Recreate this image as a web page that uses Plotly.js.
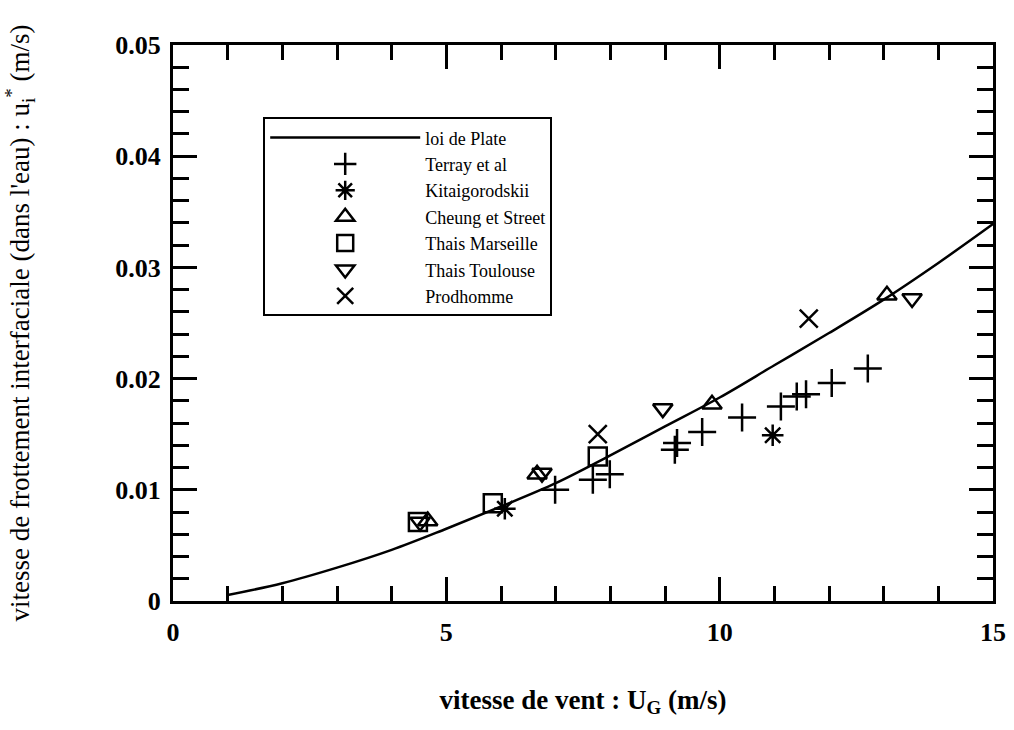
<!DOCTYPE html>
<html>
<head>
<meta charset="utf-8">
<script src="https://cdn.plot.ly/plotly-3.0.1.min.js"></script>
<style>body{margin:0;background:#fff}#c{width:1014px;height:730px}</style>
</head>
<body>
<div id="c"></div>
<script>
// loi de Plate (curve)
const plateX = [1,2,3,4,5,6,7,8,9,10,11,12,13,14,15];
const plateY = [0.00054,0.0016,0.0030,0.0046,0.0065,0.0085,0.0106,0.0131,0.0157,0.0183,0.0212,0.0241,0.0271,0.0304,0.0339];

const terrayX = [6.99,7.68,7.99,9.18,9.22,9.68,10.41,11.12,11.41,11.58,12.05,12.71];
const terrayY = [0.0100,0.0109,0.0114,0.0136,0.0142,0.0152,0.0165,0.0175,0.0184,0.0186,0.0196,0.0209];

const kitaiX = [6.07,10.97];
const kitaiY = [0.0083,0.0149];

const cheungX = [4.66,6.66,9.86,13.06];
const cheungY = [0.0072,0.0114,0.0177,0.0275];

const marseilleX = [4.48,5.85,7.77];
const marseilleY = [0.0071,0.0088,0.0130];

const toulouseX = [4.52,6.75,8.96,13.52];
const toulouseY = [0.0071,0.0115,0.0173,0.0272];

const prodX = [7.77,11.63];
const prodY = [0.0150,0.0254];

const names = ['loi de Plate','Terray et al','Kitaigorodskii','Cheung et Street','Thais Marseille','Thais Toulouse','Prodhomme'];

const xTickVals = [0,5,10,15];
const xTickText = ['0','5','10','15'];
const yTickVals = [0,0.01,0.02,0.03,0.04,0.05];
const yTickText = ['0','0.01','0.02','0.03','0.04','0.05'];

function pts(x,y,name,symbol,size){
  return {x:x,y:y,name:name,type:'scatter',mode:'markers',
    marker:{symbol:symbol,size:size,color:'black',line:{color:'black',width:2.5}}};
}

const data = [
  {x:plateX,y:plateY,name:names[0],type:'scatter',mode:'lines',line:{color:'black',width:2.5,shape:'spline',smoothing:1}},
  pts(terrayX,terrayY,names[1],'cross-thin-open',20),
  pts(kitaiX,kitaiY,names[2],'asterisk-open',18),
  pts(cheungX,cheungY,names[3],'triangle-up-open',17),
  pts(marseilleX,marseilleY,names[4],'square-open',18),
  pts(toulouseX,toulouseY,names[5],'triangle-down-open',17),
  pts(prodX,prodY,names[6],'x-thin-open',18)
];

const font = 'Liberation Serif, Times New Roman, serif';
const layout = {
  width:1014,height:730,
  margin:{l:173,r:21,t:45,b:129},
  paper_bgcolor:'white',plot_bgcolor:'white',
  showlegend:true,
  legend:{x:0.11,y:0.87,xanchor:'left',yanchor:'top',
    bordercolor:'black',borderwidth:2,bgcolor:'white',
    font:{family:font,size:18,color:'black'},
    itemwidth:150,tracegroupgap:0},
  xaxis:{range:[0,15],tickvals:xTickVals,ticktext:xTickText,showgrid:false,zeroline:false,
    showline:true,linecolor:'black',linewidth:3,mirror:'ticks',
    ticks:'inside',ticklen:24,tickwidth:3,tickcolor:'black',
    minor:{dtick:1,ticks:'inside',ticklen:15,tickwidth:3,tickcolor:'black'},
    ticklabelstandoff:6,
    tickfont:{family:font,size:26,color:'black',weight:'bold'},
    title:{text:'<b>vitesse de vent : U<sub>G</sub> (m/s)</b>',font:{family:font,size:27,color:'black'},standoff:44},
    automargin:false},
  yaxis:{range:[0,0.05],tickvals:yTickVals,ticktext:yTickText,showgrid:false,zeroline:false,
    showline:true,linecolor:'black',linewidth:3,mirror:'ticks',
    ticks:'inside',ticklen:24,tickwidth:3,tickcolor:'black',
    minor:{dtick:0.002,ticks:'inside',ticklen:16,tickwidth:3,tickcolor:'black'},
    ticklabelstandoff:4,
    tickfont:{family:font,size:26,color:'black',weight:'bold'},
    title:{text:"vitesse de frottement interfaciale (dans l'eau) : u<sub>i</sub><sup>*</sup> (m/s)",font:{family:font,size:27,color:'black'},standoff:78},
    automargin:false}
};

Plotly.newPlot('c',data,layout,{displayModeBar:false,staticPlot:true});
</script>
</body>
</html>
